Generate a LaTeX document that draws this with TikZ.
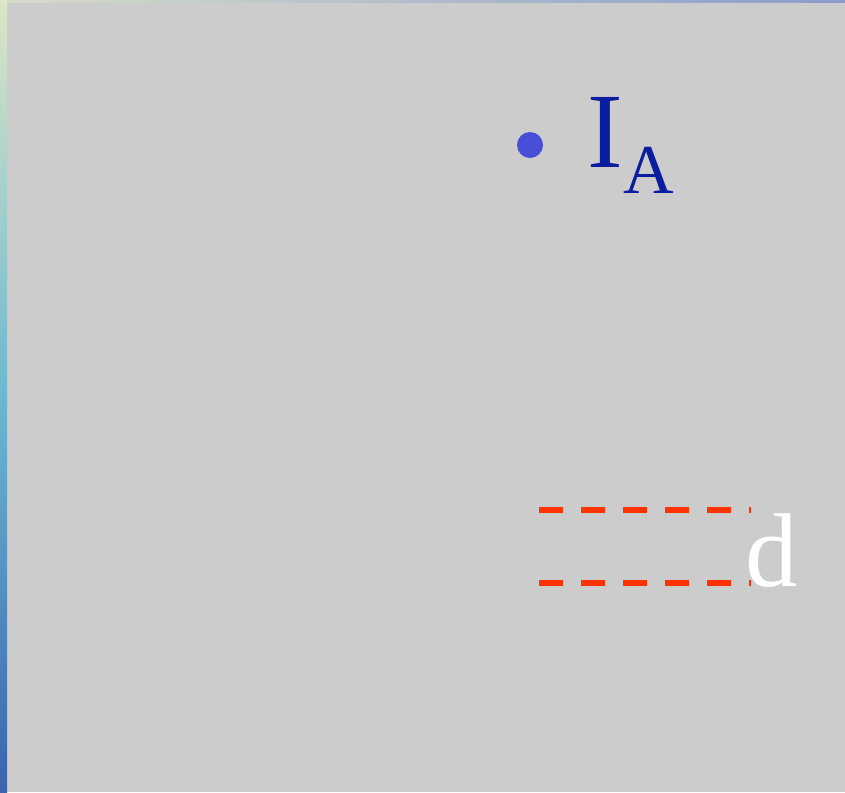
\documentclass[tikz,border=0pt]{standalone}
\usepackage{fontspec}
\setmainfont{Liberation Serif}
\usetikzlibrary{positioning, calc}
\definecolor{slideGray}{HTML}{CCCCCC}
\definecolor{labelBlue}{HTML}{0A1CA0}
\definecolor{dotBlue}{HTML}{484ED8}
\definecolor{gapRed}{HTML}{FF3300}
\definecolor{waterTop}{HTML}{DCE6C6}
\definecolor{waterMid}{HTML}{6CB8D0}
\definecolor{waterLow}{HTML}{3A64AE}
\definecolor{rimLeft}{HTML}{D6DCC8}
\definecolor{rimRight}{HTML}{8A9CCC}

\begin{document}
\begin{tikzpicture}[x=1pt, y=-1pt,
        bigtext/.style={inner sep=0pt, anchor=base west,
          font=\fontsize{107}{107}\selectfont},
        subtext/.style={inner sep=0pt, anchor=base west,
          font=\fontsize{70}{70}\selectfont},
        gapline/.style={draw=gapRed, line width=6pt,
          dash pattern=on 24pt off 18pt}
      ]
        \useasboundingbox (0,0) rectangle (845,792);
        % background and the photo strip at the edges
        \fill[slideGray] (0,0) rectangle (845,792);
        \shade[top color=waterTop, bottom color=waterLow, middle color=waterMid]
          (0,0) rectangle (7,792);
        \shade[left color=rimLeft, right color=rimRight] (7,0) rectangle (845,3);

        \node[circle, fill=dotBlue, inner sep=0pt, minimum size=26pt]
          (dot) at (530,145) {};
        \node[bigtext, text=labelBlue] (ia) at (587,167) {I};
        \node[subtext, text=labelBlue] (sub) at (623,193) {A};

        \coordinate (upL) at (539,510);
        \coordinate (upR) at (751,510);
        \coordinate (loL) at (539,583);
        \coordinate (loR) at (751,583);
        \draw[gapline] (upL) -- (upR);
        \draw[gapline] (loL) -- (loR);
        \node[bigtext, text=white, font=\fontsize{105}{105}\selectfont]
          (d) at (745,586) {d};
      \end{tikzpicture}
\end{document}
